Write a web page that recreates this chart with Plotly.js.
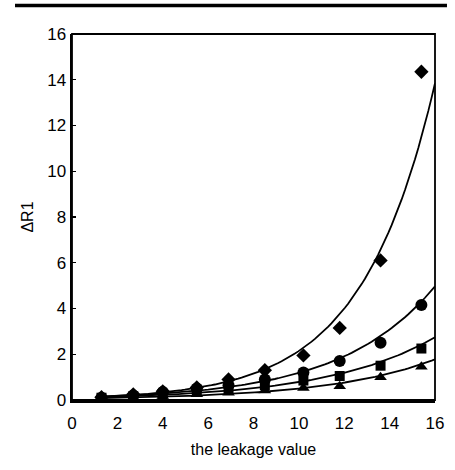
<!DOCTYPE html>
<html>
<head>
<meta charset="utf-8">
<script src="https://cdn.plot.ly/plotly-3.0.1.min.js"></script>
<style>html,body{margin:0;padding:0;background:#fff;}#chart{width:455px;height:470px;}</style>
</head>
<body>
<div id="chart"></div>
<script>
// leakage values (x)
const leakage = [1.3, 2.7, 4.0, 5.5, 6.9, 8.5, 10.2, 11.8, 13.6, 15.4];
// ΔR1 series
const diamondSeries = [0.12, 0.25, 0.38, 0.55, 0.9, 1.3, 1.95, 3.15, 6.1, 14.35];
const circleSeries  = [0.1, 0.2, 0.35, 0.5, 0.65, 0.9, 1.2, 1.7, 2.5, 4.15];
const squareSeries  = [0.1, 0.15, 0.25, 0.35, 0.5, 0.65, 0.85, 1.05, 1.5, 2.25];
const triangleSeries= [0.05, 0.1, 0.17, 0.25, 0.32, 0.42, 0.52, 0.6, 1.0, 1.45];
const xTicks = [0, 2, 4, 6, 8, 10, 12, 14, 16];
const yTicks = [0, 2, 4, 6, 8, 10, 12, 14, 16];

// exponential least-squares trendline (Excel style) computed from the data
function expFit(xs, ys) {
  const n = xs.length;
  const ly = ys.map(v => Math.log(v));
  const mx = xs.reduce((a, b) => a + b, 0) / n;
  const my = ly.reduce((a, b) => a + b, 0) / n;
  let sxx = 0, sxy = 0;
  for (let i = 0; i < n; i++) { sxx += (xs[i] - mx) ** 2; sxy += (xs[i] - mx) * (ly[i] - my); }
  const b = sxy / sxx, a = Math.exp(my - b * mx);
  const cx = [], cy = [];
  for (let i = 0; i <= 100; i++) {
    const x = xs[0] + (16 - xs[0]) * i / 100;
    cx.push(x); cy.push(a * Math.exp(b * x));
  }
  return {cx, cy};
}

const series = [
  {y: diamondSeries, sym: 'diamond', size: 11},
  {y: circleSeries, sym: 'circle', size: 12},
  {y: squareSeries, sym: 'square', size: 10},
  {y: triangleSeries, sym: 'triangle-up', size: 11}
];
const traces = [];
series.forEach(s => {
  const f = expFit(leakage, s.y);
  traces.push({x: f.cx, y: f.cy, mode: 'lines', line: {color: '#000', width: 1.8}, hoverinfo: 'skip', showlegend: false});
});
series.forEach(s => {
  traces.push({x: leakage, y: s.y, mode: 'markers', marker: {symbol: s.sym, size: s.size, color: '#000'}, showlegend: false});
});

const font = {family: 'Liberation Sans, Arial, sans-serif', color: '#000'};
const layout = {
  width: 455, height: 470,
  margin: {l: 72, r: 20, t: 34, b: 70},
  paper_bgcolor: '#fff', plot_bgcolor: '#fff',
  showlegend: false,
  font: font,
  xaxis: {
    range: [0, 16], tickvals: xTicks, ticktext: xTicks.map(String),
    showgrid: false, zeroline: false, showline: true, linecolor: '#000', linewidth: 2.5,
    ticks: '', ticklabelstandoff: 6,
    tickfont: {family: font.family, size: 17, color: '#000'},
    title: {text: 'the leakage value', font: {family: font.family, size: 16, color: '#000'}, standoff: 12}
  },
  yaxis: {
    range: [0, 16], tickvals: yTicks, ticktext: yTicks.map(String),
    showgrid: false, zeroline: false, showline: true, linecolor: '#000', linewidth: 2.5,
    ticks: 'inside', ticklen: 4, tickcolor: '#000', tickwidth: 1.2,
    tickfont: {family: font.family, size: 17, color: '#000'},
    title: {text: 'ΔR1', font: {family: font.family, size: 16, color: '#000'}, standoff: 10}
  },
  shapes: [
    {type: 'rect', xref: 'paper', yref: 'paper', x0: 0, x1: 1, y0: 0, y1: 1, line: {color: '#000', width: 1.8}},
    {type: 'line', xref: 'paper', yref: 'paper', x0: -0.157, x1: 1.033, y0: 1.078, y1: 1.078, line: {color: '#000', width: 3.5}}
  ]
};
Plotly.newPlot('chart', traces, layout, {displayModeBar: false, staticPlot: true});
</script>
</body>
</html>
